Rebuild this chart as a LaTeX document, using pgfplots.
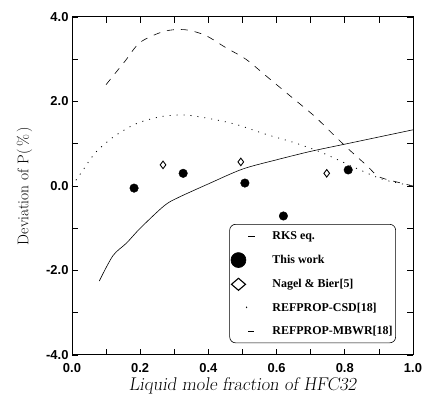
\documentclass[border=0pt]{standalone}
\usepackage{fontspec}
\usepackage{pgfplots}
\pgfplotsset{compat=1.18}
\newfontfamily\sansb{Liberation Sans}
\newfontfamily\timesf{Liberation Serif}
\begin{document}
\begin{tikzpicture}
\begin{axis}[
  scale only axis, width=341bp, height=338bp,
  xmin=0, xmax=1, ymin=-4, ymax=4,
  xtick={0,0.2,0.4,0.6,0.8,1}, minor xtick={0.1,0.3,0.5,0.7,0.9},
  ytick={-4,-2,0,2,4}, minor ytick={-3,-1,1,3},
  tick align=inside, major tick length=6bp, minor tick length=6bp,
  axis line style={line width=1pt}, every tick/.style={line width=0.8pt, black},
  /pgf/number format/fixed, /pgf/number format/fixed zerofill,
  /pgf/number format/precision=1, /pgf/number format/assume math mode=true,
  tick label style={font=\sansb\bfseries\fontsize{13}{13}\selectfont},
  xticklabel style={yshift=-5bp},
  xlabel={\slshape Liquid mole fraction of HFC32},
  ylabel={Deviation of P(\,\%\,)},
  xlabel style={font=\fontsize{18.5}{19}\selectfont, yshift=2bp},
  ylabel style={font=\fontsize{15.5}{16}\selectfont, yshift=7bp},
  legend style={at={(axis cs:0.95,-0.9)}, anchor=north east, draw=black, line width=0.6pt,
    rounded corners=6pt, font=\timesf\bfseries\fontsize{12}{13}\selectfont,
    row sep=9.6pt, inner xsep=1pt, inner ysep=5pt, cells={anchor=west}},
]
\addplot[black, line width=0.6pt, smooth, legend image code/.code={\path[draw=none,fill=none] (0,0) -- (32bp,0); \draw[black, solid, sharp corners, line width=0.6pt] (10bp,0) -- (17bp,0);}]
 coordinates {(0.08,-2.25) (0.12,-1.65) (0.16,-1.35) (0.2,-1.0) (0.27,-0.47) (0.31,-0.28) (0.4,0.05) (0.5,0.4) (0.6,0.62) (0.7,0.82) (0.8,0.99) (0.9,1.16) (1.0,1.33)};
\addlegendentry{RKS eq.}
\addplot[only marks, mark=*, mark size=4.3pt, black, legend image code/.code={\path[draw=none,fill=none] (0,0) -- (32bp,0); \fill[black] (0bp,0) circle (7.5bp);}]
 coordinates {(0.182,-0.05) (0.326,0.30) (0.507,0.07) (0.62,-0.71) (0.81,0.38)};
\addlegendentry{This work}
\addplot[only marks, mark=diamond, mark size=3.8pt, black, line width=0.9pt, legend image code/.code={\path[draw=none,fill=none] (0,0) -- (32bp,0); \draw[black, solid, sharp corners, line width=1.1pt, fill=none] (0bp,-6bp) -- (7bp,0) -- (0bp,6bp) -- (-7bp,0) -- cycle;}]
 coordinates {(0.267,0.50) (0.495,0.57) (0.747,0.30)};
\addlegendentry{Nagel \& Bier[5]}
\addplot[black, line width=0.8pt, smooth, dash pattern=on 1pt off 6pt, legend image code/.code={\path[draw=none,fill=none] (0,0) -- (32bp,0); \fill[black] (8bp,0) circle (0.6bp);}]
 coordinates {(0,0) (0.03,0.35) (0.07,0.8) (0.125,1.18) (0.19,1.48) (0.26,1.64) (0.33,1.68) (0.4,1.6) (0.48,1.46) (0.57,1.22) (0.65,1.03) (0.73,0.8) (0.82,0.47) (0.91,0.16) (1.0,0.0)};
\addlegendentry{REFPROP-CSD[18]}
\addplot[black, line width=0.6pt, smooth, dash pattern=on 7pt off 7pt, legend image code/.code={\path[draw=none,fill=none] (0,0) -- (32bp,0); \draw[black, solid, sharp corners, line width=0.6pt] (10bp,0) -- (16bp,0);}]
 coordinates {(0.1,2.4) (0.155,2.95) (0.2,3.4) (0.27,3.66) (0.33,3.7) (0.39,3.57) (0.45,3.28) (0.51,3.0) (0.57,2.6) (0.64,2.13) (0.71,1.66) (0.77,1.19) (0.81,0.88) (0.865,0.48) (0.9,0.22) (0.96,0.08) (1.0,0.0)};
\addlegendentry{REFPROP-MBWR[18]}
\end{axis}
\pgfresetboundingbox
\path ([shift={(-72bp,-49bp)}]current axis.south west) rectangle ([shift={(11bp,17bp)}]current axis.north east);
\end{tikzpicture}
\end{document}
